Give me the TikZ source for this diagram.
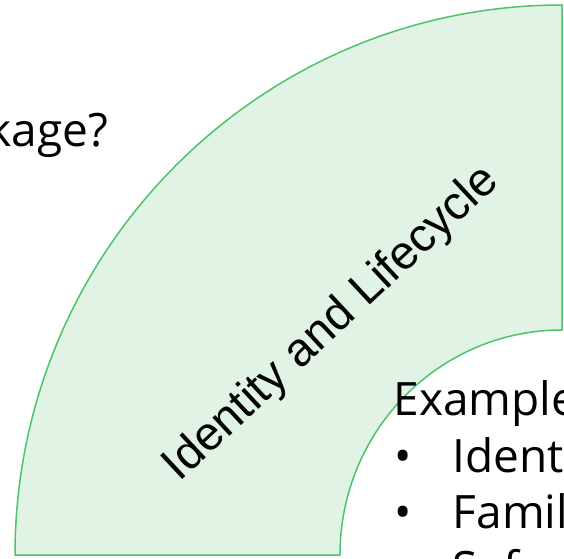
\documentclass[tikz,border=0pt]{standalone}
\usepackage{fontspec}
\setmainfont{Open Sans}
\newfontfamily\ringfont{Liberation Sans}
\definecolor{ringfill}{RGB}{224,243,229}
\definecolor{ringline}{RGB}{78,195,106}
\begin{document}
\begin{tikzpicture}[x=1pt,y=1pt,
  bodytext/.style={inner sep=0pt,font=\fontsize{46}{55}\selectfont,text=black},
  ringlabel/.style={inner sep=0pt,font=\ringfont\fontsize{47}{56}\selectfont,text=black}]
  \useasboundingbox (0,0) rectangle (564,558);
  \clip (0,0) rectangle (564,558);

  % quarter ring
  \draw[ringline,fill=ringfill,line width=1.5pt,line join=round]
    (15,3) arc[start angle=180,end angle=90,x radius=547,y radius=550]
    -- (562,228)
    arc[start angle=90,end angle=180,x radius=222,y radius=225]
    -- cycle;

  \node[ringlabel,rotate=43] (ring) at (332,234) {Identity and Lifecycle};

  % surrounding text
  \node[bodytext,anchor=base east] (question) at (108.5,411) {kage?};
  \node[bodytext,anchor=base west] (example) at (393.5,143) {Example};
  \node[bodytext,anchor=base west] (b1) at (394,86) {•};
  \node[bodytext,anchor=base west] (i1) at (452.5,86) {Ident};
  \node[bodytext,anchor=base west] (b2) at (394,30) {•};
  \node[bodytext,anchor=base west] (i2) at (452.5,30) {Famil};
  \node[bodytext,anchor=base west] (b3) at (394,-26) {•};
  \node[bodytext,anchor=base west] (i3) at (452.5,-26) {Saf};
\end{tikzpicture}
\end{document}
